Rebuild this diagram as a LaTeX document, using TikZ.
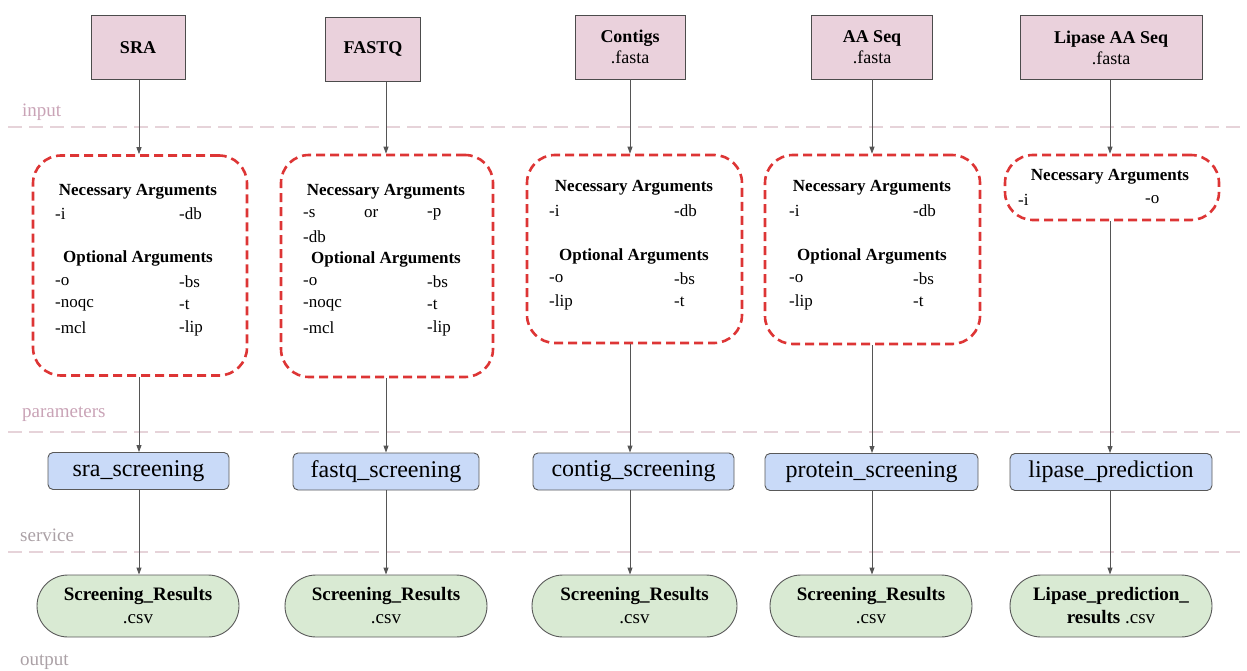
\documentclass[tikz,border=0pt]{standalone}
\usepackage{fontspec}
\setmainfont{Liberation Serif}
\usetikzlibrary{arrows.meta}
\definecolor{inpink}{HTML}{EAD1DC}
\definecolor{svblue}{HTML}{C9DAF8}
\definecolor{outgreen}{HTML}{D9EAD3}
\definecolor{redash}{HTML}{DD3535}
\definecolor{sepline}{HTML}{E6D3D9}
\definecolor{laypink}{HTML}{C9A3B6}
\definecolor{laygray}{HTML}{ABA1A6}
\definecolor{arrgray}{HTML}{555555}
\begin{document}
\begin{tikzpicture}[x=1pt,y=-1pt,
  inbox/.style={draw=black!70, fill=inpink, line width=0.9pt, minimum height=64pt, inner sep=0pt, align=center, font=\fontsize{18}{21}\selectfont},
  parbox/.style={draw=redash, line width=2.6pt, dash pattern=on 9pt off 5pt, rounded corners=28pt, inner sep=0pt},
  svbox/.style={draw=black!65, fill=svblue, line width=0.9pt, rounded corners=5pt, minimum height=37pt, inner sep=0pt, font=\fontsize{24}{28}\selectfont},
  resbox/.style={draw=black!65, fill=outgreen, line width=0.9pt, rounded corners=31pt, minimum height=62pt, inner sep=0pt, align=center, font=\fontsize{19}{23}\selectfont},
  head/.style={font=\fontsize{17}{20}\selectfont\bfseries, inner sep=0pt},
  arg/.style={font=\fontsize{17}{20}\selectfont, anchor=west, inner sep=0pt},
  layer/.style={font=\fontsize{19}{22}\selectfont, anchor=west, inner sep=0pt},
  sep/.style={draw=sepline, line width=2pt, dash pattern=on 14pt off 7pt},
  arr/.style={draw=arrgray, line width=0.9pt, -{Triangle[length=7pt,width=5pt]}}]
\useasboundingbox (0,0) rectangle (1247,671);

% layer separators and labels
\coordinate (lL) at (8,0);
\coordinate (lR) at (1247,0);
\draw[sep] (lL |- 0,127) -- (lR |- 0,127);
\draw[sep] (lL |- 0,432) -- (lR |- 0,432);
\draw[sep] (lL |- 0,552) -- (lR |- 0,552);
\node[layer, text=laypink] (linput) at (22,112) {input};
\node[layer, text=laypink] (lparam) at (22,414) {parameters};
\node[layer, text=laygray] (lservice) at (20,535) {service};
\node[layer, text=laygray] (loutput) at (20,662) {output};

% column x positions
\coordinate (c1) at (139,0);
\coordinate (c2) at (386,0);
\coordinate (c3) at (630,0);
\coordinate (c4) at (872,0);
\coordinate (c5) at (1110,0);

% inputs
\node[inbox, minimum width=94pt] (in1) at (138,47.5) {\bfseries SRA};
\node[inbox, minimum width=95pt] (in2) at (373,49.5) {\bfseries FASTQ};
\node[inbox, minimum width=110pt] (in3) at (630,47) {\bfseries Contigs\\.fasta};
\node[inbox, minimum width=121pt] (in4) at (872,47) {\bfseries AA Seq\\.fasta};
\node[inbox, minimum width=182pt] (in5) at (1111,47.5) {\bfseries Lipase AA Seq\\.fasta};

% parameter boxes
\node[parbox, minimum width=214pt, minimum height=220pt] (p1) at (140,265.5) {};
\node[parbox, minimum width=212pt, minimum height=222pt] (p2) at (387,266) {};
\node[parbox, minimum width=215pt, minimum height=188pt] (p3) at (634.5,249) {};
\node[parbox, minimum width=215pt, minimum height=189pt] (p4) at (872.5,249.5) {};
\node[parbox, minimum width=214pt, minimum height=65pt] (p5) at (1112,187.5) {};

% parameter texts col 1
\node[head] (p1h1) at (138,192) {Necessary Arguments};
\node[arg] (p1a) at (55,214) {-i};
\node[arg] (p1b) at (179,214) {-db};
\node[head] (p1h2) at (138,258) {Optional Arguments};
\node[arg] (p1c) at (55,282) {-o};
\node[arg] (p1d) at (179,282) {-bs};
\node[arg] (p1e) at (55,305) {-noqc};
\node[arg] (p1f) at (179,305) {-t};
\node[arg] (p1g) at (55,328) {-mcl};
\node[arg] (p1k) at (179,328) {-lip};

% col 2
\node[head] (p2h1) at (386,192) {Necessary Arguments};
\node[arg] (p2a) at (303,214) {-s};
\node[arg] (p2or) at (364,214) {or};
\node[arg] (p2b) at (427,214) {-p};
\node[arg] (p2db) at (303,237) {-db};
\node[head] (p2h2) at (386,259) {Optional Arguments};
\node[arg] (p2c) at (303,282) {-o};
\node[arg] (p2d) at (427,282) {-bs};
\node[arg] (p2e) at (303,305) {-noqc};
\node[arg] (p2f) at (427,305) {-t};
\node[arg] (p2g) at (303,328) {-mcl};
\node[arg] (p2k) at (427,328) {-lip};

% col 3
\node[head] (p3h1) at (634,188) {Necessary Arguments};
\node[arg] (p3a) at (549,211) {-i};
\node[arg] (p3b) at (674,211) {-db};
\node[head] (p3h2) at (634,256) {Optional Arguments};
\node[arg] (p3c) at (549,279) {-o};
\node[arg] (p3d) at (674,279) {-bs};
\node[arg] (p3e) at (549,302) {-lip};
\node[arg] (p3f) at (674,302) {-t};

% col 4
\node[head] (p4h1) at (872,188) {Necessary Arguments};
\node[arg] (p4a) at (789,211) {-i};
\node[arg] (p4b) at (913,211) {-db};
\node[head] (p4h2) at (872,256) {Optional Arguments};
\node[arg] (p4c) at (789,279) {-o};
\node[arg] (p4d) at (913,279) {-bs};
\node[arg] (p4e) at (789,302) {-lip};
\node[arg] (p4f) at (913,302) {-t};

% col 5
\node[head] (p5h1) at (1110,177) {Necessary Arguments};
\node[arg] (p5a) at (1018,200) {-i};
\node[arg] (p5b) at (1145,200) {-o};

% services
\node[svbox, minimum width=181pt] (s1) at (138.5,471) {sra\_screening};
\node[svbox, minimum width=186pt] (s2) at (386,471.5) {fastq\_screening};
\node[svbox, minimum width=201pt] (s3) at (633.5,471.5) {contig\_screening};
\node[svbox, minimum width=213pt] (s4) at (871.5,472) {protein\_screening};
\node[svbox, minimum width=202pt] (s5) at (1111,472) {lipase\_prediction};

% results
\node[resbox, minimum width=202pt] (r1) at (138,606) {\bfseries Screening\_Results\\.csv};
\node[resbox, minimum width=202pt] (r2) at (386,606) {\bfseries Screening\_Results\\.csv};
\node[resbox, minimum width=205pt] (r3) at (634.5,606) {\bfseries Screening\_Results\\.csv};
\node[resbox, minimum width=202pt] (r4) at (871,606) {\bfseries Screening\_Results\\.csv};
\node[resbox, minimum width=202pt] (r5) at (1111,606) {\bfseries Lipase\_prediction\_\\\textbf{results} .csv};

% connectors
\foreach \i in {1,...,5}{
  \draw[arr] (c\i |- in\i.south) -- (c\i |- p\i.north);
  \draw[arr] (c\i |- p\i.south) -- (c\i |- s\i.north);
  \draw[arr] (c\i |- s\i.south) -- (c\i |- r\i.north);
}
\end{tikzpicture}
\end{document}
